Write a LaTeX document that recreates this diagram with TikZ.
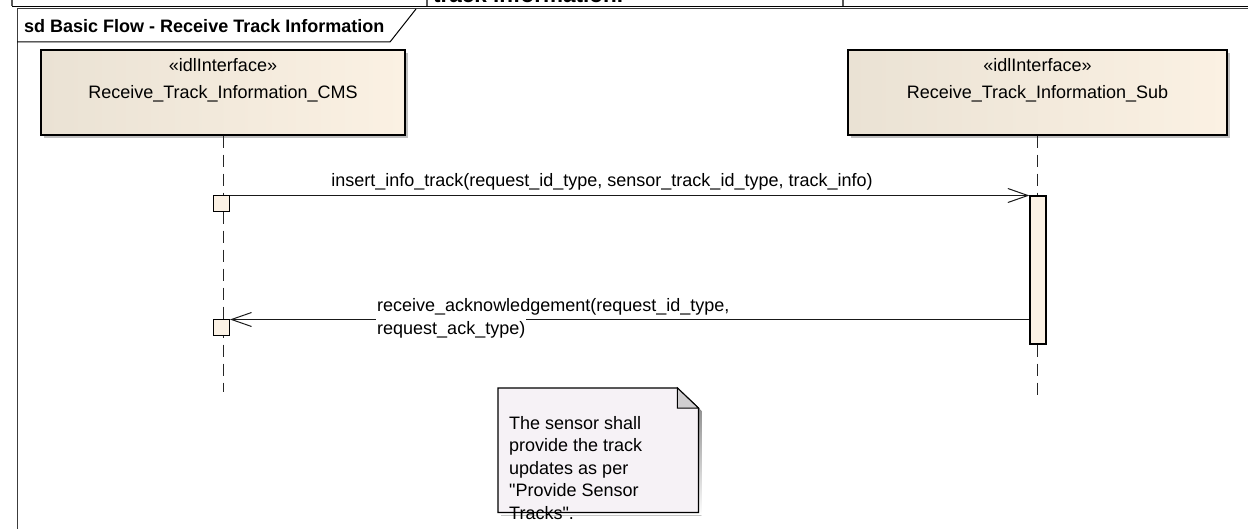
\documentclass[tikz,border=0pt]{standalone}
\usepackage{fontspec}
\setmainfont{Liberation Sans}
\newfontfamily\plainsans{Liberation Sans}
\usetikzlibrary{arrows.meta,shadows}
\definecolor{headL}{RGB}{234,226,212}
\definecolor{headR}{RGB}{251,241,227}
\definecolor{actfill}{RGB}{251,241,228}
\definecolor{notefill}{RGB}{246,242,246}
\definecolor{foldfill}{RGB}{208,206,208}
\definecolor{shade}{RGB}{192,192,192}
\definecolor{framecol}{RGB}{60,60,60}
\begin{document}
\begin{tikzpicture}[x=1pt,y=-1pt,
  txt/.style={font=\fontsize{18}{22.5}\selectfont, inner sep=0pt},
  head/.style={draw=black, line width=1.3pt, left color=headL, right color=headR,
    minimum width=364pt, minimum height=85pt, inner sep=0pt,
    drop shadow={shadow xshift=3pt, shadow yshift=-3pt, fill=shade, opacity=1}},
  lifeline/.style={draw=black!85, line width=1pt, dash pattern=on 12pt off 7pt},
  sq/.style={draw=black, line width=1pt, fill=actfill, minimum size=16pt, inner sep=0pt},
  actbar/.style={draw=black, line width=1.2pt, fill=actfill, minimum width=16pt,
    minimum height=148pt, inner sep=0pt},
  msg/.style={draw=black!90, line width=1pt,
    -{Straight Barb[length=20pt,width=14pt,line width=1pt]}},
]
\useasboundingbox (0,0) rectangle (1248,529);
\fill[white] (0,0) rectangle (1248,529);

% cut-off header of the page above
\node[font=\bfseries\fontsize{22.5}{26}\selectfont, inner sep=0pt, anchor=base west] (hdr) at (433,2.5) {track information.};
\draw[black, line width=1.2pt] (12,6.5) -- (1248,6.5);
\draw[black!65, line width=1.2pt] (12,0) -- (12,6.5);
\draw[black!65, line width=1.2pt] (427,0) -- (427,6.5);
\draw[black!65, line width=1.2pt] (843,0) -- (843,6.5);

% frame
\draw[framecol, line width=1pt] (17,529) -- (17,9) -- (1248,9);
\draw[black, line width=1pt] (17,42) -- (390,42) -- (416,9);
\node[font=\bfseries\fontsize{18}{22}\selectfont, inner sep=0pt, anchor=base west] (title) at (24,33) {sd Basic Flow - Receive Track Information};

% lifeline heads
\node[head] (cms) at (223,92.5) {};
\node[head, minimum width=379pt] (sub) at (1037.5,92.5) {};
\node[txt, anchor=base] (cmsst) at (223,72) {«idlInterface»};
\node[txt, anchor=base] (cmsname) at (223,99) {Receive\_Track\_Information\_CMS};
\node[txt, anchor=base] (subst) at (1037.5,72) {«idlInterface»};
\node[txt, anchor=base] (subname) at (1037.5,99) {Receive\_Track\_Information\_Sub};

% lifelines
\coordinate (cmsend) at (223,392);
\coordinate (subend) at (1037.5,395);
\draw[lifeline] (cms.south) -- (cmsend);
\draw[lifeline] (sub.south) -- (subend);

% activation and execution squares
\node[actbar] (act) at (1038,270) {};
\node[sq] (s1) at (221.5,204) {};
\node[sq] (s2) at (221.5,328) {};

% messages
\draw[msg] (s1.north east) -- (s1.north east -| act.west);
\node[txt, anchor=base] (m1) at (602,187) {insert\_info\_track(request\_id\_type, sensor\_track\_id\_type, track\_info)};
\draw[msg] (s2.north east -| act.west) -- (s2.north east);
\node[txt, anchor=base west] (m2a) at (377,312) {receive\_acknowledgement(request\_id\_type,};
\node[txt, anchor=base west, fill=white, inner ysep=3pt, inner xsep=1pt] (m2b) at (376,334.5) {request\_ack\_type)};

% note
\node[inner sep=0pt, minimum width=200pt, minimum height=124pt, anchor=north west] (note) at (498,388) {};
\fill[shade] ([xshift=3pt,yshift=-3pt]note.north west) -- ([xshift=-18pt,yshift=-3pt]note.north east)
  -- ([xshift=3pt,yshift=-23pt]note.north east) -- ([xshift=3pt,yshift=-3pt]note.south east)
  -- ([xshift=3pt,yshift=-3pt]note.south west) -- cycle;
\draw[line width=1.2pt, fill=notefill] (note.north west) -- ([xshift=-21pt]note.north east)
  -- ([yshift=-20pt]note.north east) -- (note.south east) -- (note.south west) -- cycle;
\draw[line width=1pt, fill=foldfill] ([xshift=-21pt]note.north east)
  -- ([xshift=-21pt,yshift=-20pt]note.north east) -- ([yshift=-20pt]note.north east) -- cycle;
\node[inner sep=0pt, font=\plainsans\fontsize{18}{22.5}\selectfont, anchor=north west, align=left] (notetext) at (509,416) {The sensor shall\\provide the track\\updates as per\\"Provide Sensor\\Tracks".};
\end{tikzpicture}
\end{document}
